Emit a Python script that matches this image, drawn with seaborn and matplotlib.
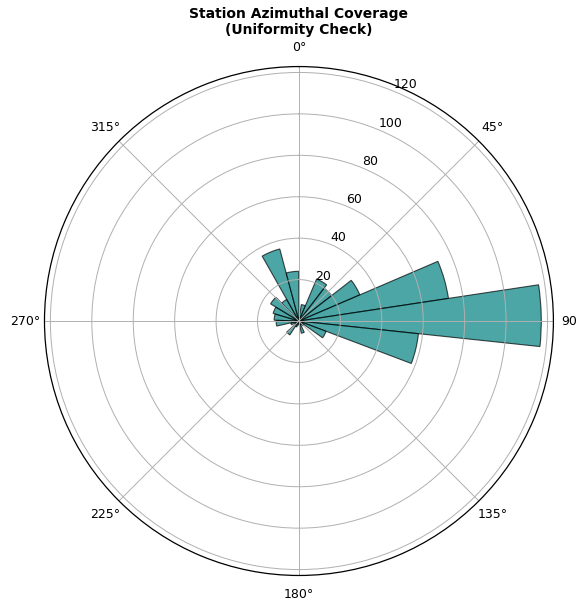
import numpy as np
import matplotlib
matplotlib.use("Agg")
import matplotlib.pyplot as plt
import seaborn as sns

# Azimuth histogram of stations (24 equal-width bins between the smallest and
# largest observed azimuth, degrees clockwise from north)
az_min_deg = 8.15
az_max_deg = 359.75
n_bins = 24
station_counts = [8, 22, 20, 32, 73, 117, 58, 14,
                  3, 2, 6, 2, 1, 3, 8, 2,
                  4, 11, 12, 13, 16, 12, 36, 24]

radial_ticks = [20, 40, 60, 80, 100, 120]

edges_deg = np.linspace(az_min_deg, az_max_deg, n_bins + 1)
width_rad = np.deg2rad(edges_deg[1] - edges_deg[0])
left_rad = np.deg2rad(edges_deg[:-1])

bar_color = sns.color_palette(["teal"])[0]

plt.rcParams["grid.linewidth"] = 0.7
plt.rcParams["axes.linewidth"] = 0.9

fig = plt.figure(figsize=(5.77, 6.02), dpi=100)
ax = fig.add_axes([0.0771, 0.044, 0.882, 0.8455], projection="polar")
ax.set_theta_zero_location("N")
ax.set_theta_direction(-1)

ax.bar(left_rad, station_counts, width=width_rad, align="edge",
       color=bar_color, edgecolor="black", linewidth=0.8, alpha=0.7)

ax.set_rticks(radial_ticks)
ax.tick_params(labelsize=9)

fig.text(0.518, 0.9635, "Station Azimuthal Coverage\n(Uniformity Check)",
         ha="center", va="center", fontsize=10, fontweight="bold")

fig.savefig("out.png", dpi=100)
